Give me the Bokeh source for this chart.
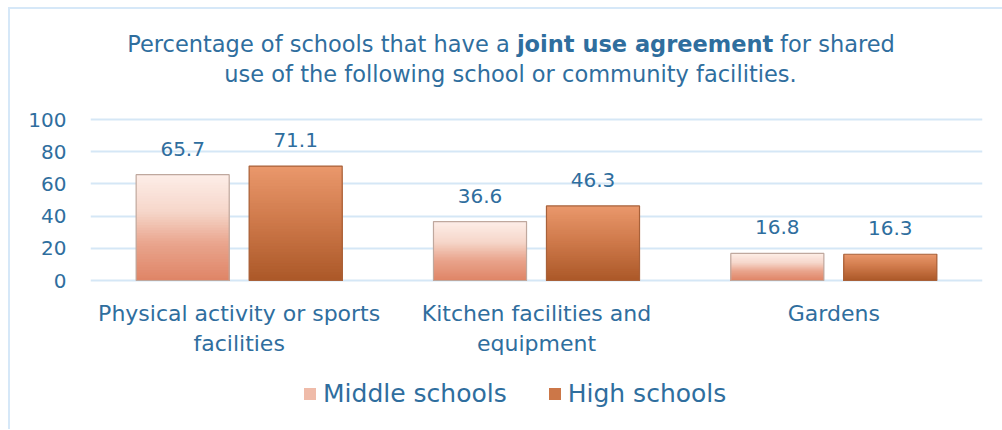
from bokeh.plotting import figure
from bokeh.models import ColumnDataSource, FactorRange, Range1d, LabelSet, Label, Legend, LegendItem
from bokeh.core.properties import value
from bokeh.transform import dodge
from bokeh.embed import file_html
from bokeh.resources import INLINE

# ---- data ----
categories = ["Physical activity or sports\nfacilities", "Kitchen facilities and\nequipment", "Gardens"]
middle_schools = [65.7, 36.6, 16.8]
high_schools = [71.1, 46.3, 16.3]
series_names = ["Middle schools", "High schools"]
y_ticks = [0, 20, 40, 60, 80, 100]

# ---- style ----
FONT = "DejaVu Sans"
BLUE = "#2f6e9e"
GRID = "#d5e7f6"
N_SEG = 40
BAR_W = 0.313
OFFSETS = [-0.19, 0.19]
GRAD = [
    [(0.0, "#df8466"), (0.35, "#e9a58d"), (0.65, "#f6d6ca"), (1.0, "#fdeee8")],
    [(0.0, "#ab5828"), (0.5, "#cd7849"), (1.0, "#ea986c")],
]
EDGE = ["#bfa89e", "#a8613a"]

FRAME_W, FRAME_H = 892, 420
PX_PER_UNIT = 1.61          # vertical scale of the value axis
ZERO_FROM_TOP = 271         # px from frame top to the zero line


def hex2rgb(h):
    h = h.lstrip("#")
    return tuple(int(h[i:i + 2], 16) for i in (0, 2, 4))


def interp(stops, t):
    for (t0, c0), (t1, c1) in zip(stops[:-1], stops[1:]):
        if t0 <= t <= t1:
            f = (t - t0) / (t1 - t0)
            a, b = hex2rgb(c0), hex2rgb(c1)
            return "#%02x%02x%02x" % tuple(round(a[i] + (b[i] - a[i]) * f) for i in range(3))
    return stops[-1][1]


y_start = -(FRAME_H - ZERO_FROM_TOP) / PX_PER_UNIT
y_end = ZERO_FROM_TOP / PX_PER_UNIT

p = figure(x_range=FactorRange(factors=categories), y_range=Range1d(y_start, y_end),
           frame_width=FRAME_W, frame_height=FRAME_H, output_backend="svg", toolbar_location=None,
           min_border_left=80, min_border_right=20, min_border_top=0, min_border_bottom=0)
p.styles = {"border-left": "2px solid #d6e8f8", "border-top": "2px solid #d6e8f8",
            "margin-left": "8px", "margin-top": "7px"}
p.outline_line_color = None
p.background_fill_color = "white"
p.border_fill_color = "white"

p.xgrid.grid_line_color = None
p.ygrid.grid_line_color = GRID
p.ygrid.grid_line_width = 2
p.yaxis.ticker = y_ticks
p.xaxis.fixed_location = 0

for ax in (p.xaxis, p.yaxis):
    ax.axis_line_color = None
    ax.major_tick_line_color = None
    ax.minor_tick_line_color = None
    ax.major_tick_out = 0
    ax.major_tick_in = 0
    ax.minor_tick_out = 0
    ax.major_label_text_color = BLUE
    ax.major_label_text_font = FONT
p.yaxis.major_label_text_font_size = "20px"
p.yaxis.major_label_standoff = 24
p.xaxis.major_label_text_font_size = "22px"
p.xaxis.major_label_standoff = 20

series_vals = [middle_schools, high_schools]
legend_items = []
for si, vals in enumerate(series_vals):
    # nested bars from the base up to a fraction of each value, drawn tallest first,
    # so the visible bands form a vertical gradient without seams
    xs, tops, cols = [], [], []
    for k in reversed(range(N_SEG)):
        for ci, v in enumerate(vals):
            xs.append(categories[ci])
            tops.append(v * (k + 1) / N_SEG)
            cols.append(interp(GRAD[si], (k + 0.5) / N_SEG))
    src = ColumnDataSource(dict(cat=xs, top=tops, color=cols))
    r = p.vbar(x=dodge("cat", OFFSETS[si], range=p.x_range), bottom=0, top="top",
               width=BAR_W, fill_color="color", line_color=None, source=src)

    vsrc = ColumnDataSource(dict(cat=categories, val=vals, label=["%.1f" % v for v in vals]))
    ro = p.vbar(x=dodge("cat", OFFSETS[si], range=p.x_range), top="val", bottom=0, width=BAR_W,
                fill_color=None, line_color=EDGE[si], line_width=1.2, source=vsrc)
    p.add_layout(LabelSet(x=dodge("cat", OFFSETS[si], range=p.x_range), y="val", text="label",
                          source=vsrc, text_align="center", text_baseline="middle", y_offset=26,
                          text_font=value(FONT), text_font_size="20px", text_color=BLUE))
    legend_items.append(LegendItem(label=series_names[si], renderers=[r, ro],
                                   index=(N_SEG // 2) * len(categories)))

legend = Legend(items=legend_items,
                location=(212, 21), orientation="horizontal", glyph_width=15, glyph_height=15,
                label_standoff=6, spacing=40, padding=0, margin=0, border_line_color=None,
                background_fill_alpha=0, label_text_font=FONT, label_text_font_size="25px",
                label_text_color=BLUE)
p.add_layout(legend)

# title pieces (mixed weight), positioned in data units of the plot
title_parts = [
    ("Percentage of schools that have a", 1.4099, 146.6, "right", "normal"),
    ("joint use agreement", 1.4341, 146.6, "left", "bold"),
    ("for shared", 2.3193, 146.6, "left", "normal"),
    ("use of the following school or community facilities.", 1.4126, 128.0, "center", "normal"),
]
for txt, x, y, al, st in title_parts:
    p.add_layout(Label(x=x, y=y, text=txt, text_align=al, text_baseline="middle",
                       text_font=FONT, text_font_size="22.5px", text_font_style=st, text_color=BLUE))

open("out.html", "w").write(file_html(p, INLINE))
